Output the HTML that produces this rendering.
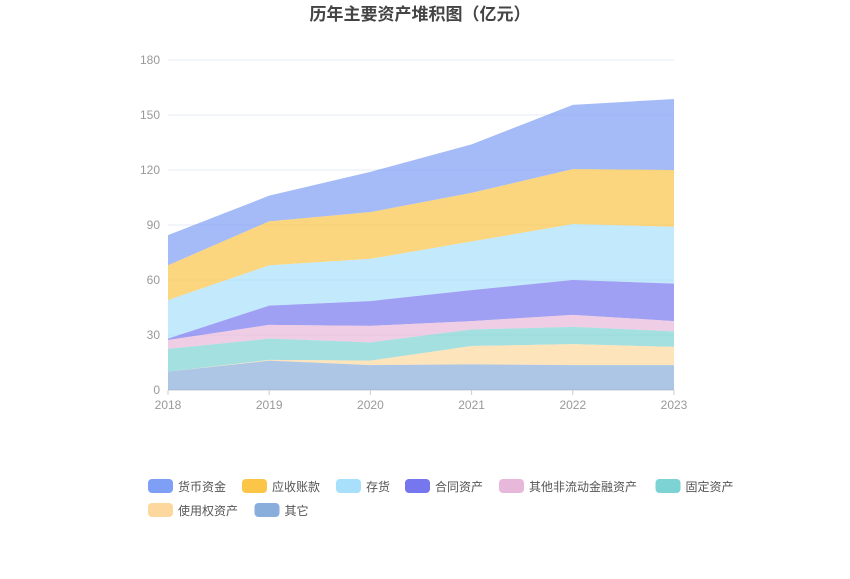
<!DOCTYPE html>
<html><head><meta charset="utf-8"><style>
body{margin:0;background:#fff;width:850px;height:574px;overflow:hidden;font-family:"Liberation Sans","Noto Sans CJK SC",sans-serif}
</style></head><body>
<svg id="c" width="850" height="574" xmlns="http://www.w3.org/2000/svg">
<text x="420" y="20" text-anchor="middle" font-size="17" font-weight="bold" fill="#444" font-family="Liberation Sans,Noto Sans CJK SC,sans-serif">历年主要资产堆积图（亿元）</text>
<g id="grid"></g><g id="areas"></g><g id="axes"></g><g id="legend"></g>
</svg>
<script>
const years=["2018","2019","2020","2021","2022","2023"];
const yTicks=[0,30,60,90,120,150,180];
const names=["货币资金","应收账款","存货","合同资产","其他非流动金融资产","固定资产","使用权资产","其它"];
const s_cash=[16.5,14,22,26.5,35,38.7];
const s_recv=[19,24,25.5,26.5,30,31];
const s_inv=[21,22,23,26.5,30.5,31];
const s_contract=[0.7,10.5,13.5,16.9,19,20.4];
const s_otherfin=[4.9,7.5,9,4.6,6.6,5.6];
const s_fixed=[12.4,11.6,10,9,9.4,8.5];
const s_rou=[0,0.4,2.4,10,11.4,9.9];
const s_other=[10,16,13.6,14,13.6,13.6];
const series=[s_cash,s_recv,s_inv,s_contract,s_otherfin,s_fixed,s_rou,s_other];
const colors=["#7f9ef5","#fbc547","#a8e0fb","#7676ee","#e8b8da","#7dd3d3","#fdd89e","#8aaedc"];
const NS="http://www.w3.org/2000/svg";
const x0=168,x1=674,yb=390,yt=60;
const X=i=>x0+(x1-x0)*i/(years.length-1);
const Y=v=>yb-(yb-yt)*v/180;
function el(t,a,p){const e=document.createElementNS(NS,t);for(const k in a)e.setAttribute(k,a[k]);p.appendChild(e);return e;}
const grid=document.getElementById('grid'),axes=document.getElementById('axes'),areas=document.getElementById('areas'),leg=document.getElementById('legend');
yTicks.forEach(v=>{
 const l=el('line',{x1:x0,x2:x1,y1:Y(v),y2:Y(v),stroke:v?'#e6ebf3':'#ccc','stroke-width':1},grid);
 
 const t=el('text',{x:160,y:Y(v)+4,'text-anchor':'end','font-size':12,fill:'#999'},axes);t.textContent=v;
 
});
years.forEach((y,i)=>{
 const t=el('text',{x:X(i),y:409,'text-anchor':'middle','font-size':12,fill:'#999'},axes);t.textContent=y;
 
 const k=el('line',{x1:X(i),x2:X(i),y1:yb,y2:yb+5,stroke:'#ccc'},axes);
 
});
// stacking from bottom (last) upward
const n=series.length;let base=years.map(()=>0);const tops=[];
for(let s=n-1;s>=0;s--){const top=base.map((b,i)=>b+series[s][i]);tops[s]={top,base:base.slice()};base=top;}
for(let s=0;s<n;s++){
 const {top,base}=tops[s];let d='';
 top.forEach((v,i)=>d+=(i?'L':'M')+X(i)+','+Y(v));
 for(let i=years.length-1;i>=0;i--)d+='L'+X(i)+','+Y(base[i]);
 const p=el('path',{d:d+'Z',fill:colors[s],'fill-opacity':0.7,stroke:'none'},areas);
 
}
let lx=148,ly=479;
names.forEach((nm,i)=>{
 const w=nm.length*13+40;
 if(lx+w>760){lx=148;ly+=24;}
 const g=el('g',{},leg);
 el('rect',{x:lx,y:ly,width:25,height:14,rx:4,fill:colors[i]},g);
 const t=el('text',{x:lx+30,y:ly+12,'font-size':12,fill:'#555'},g);t.textContent=nm;
 lx+=30+nm.length*12.5+14;
});
</script>
</body></html>
